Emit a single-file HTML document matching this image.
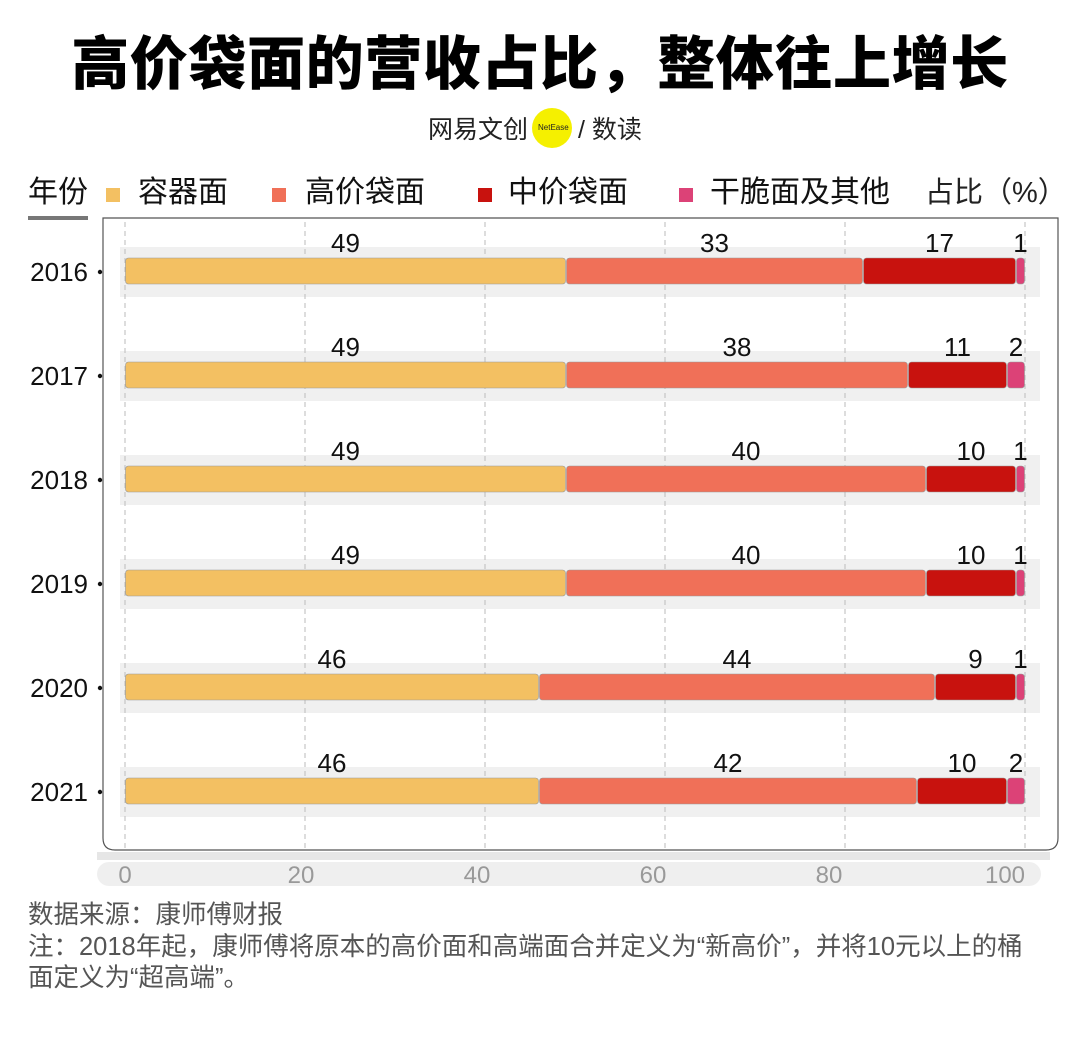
<!DOCTYPE html>
<html><head><meta charset="utf-8"><style>
body{margin:0;background:#fff;width:1080px;height:1038px;overflow:hidden;position:relative;font-family:"Liberation Sans","Noto Sans CJK SC",sans-serif}
.abs{position:absolute}
#title{left:0;width:1080px;top:28px;text-align:center;font-size:58px;font-weight:900;color:#000;line-height:74px;letter-spacing:0.6px}
.leg{top:173px;font-size:30px;line-height:40px;color:#111}
.sw{width:14px;height:14px;top:188px}
.foot{left:28px;font-size:25.5px;color:#555;line-height:31px;white-space:nowrap}
</style></head><body>
<div id="title" class="abs">高价袋面的营收占比，整体往上增长</div>
<div class="abs" style="left:428px;top:112px;height:40px;width:230px">
 <div class="abs" style="left:104px;top:-4px;width:40px;height:40px;border-radius:50%;background:#f5f000"></div>
 <div class="abs" style="left:0;top:0;font-size:25px;color:#222;line-height:36px">网易文创</div>
 <div class="abs" style="left:110px;top:11px;font-size:8px;color:#222">NetEase</div>
 <div class="abs" style="left:150px;top:0;font-size:25px;color:#222;line-height:36px">/ 数读</div>
</div>
<div class="abs leg" style="left:28px">年份</div>
<div class="abs" style="left:28px;top:216px;width:60px;height:4px;background:#777"></div>
<div class="abs sw" style="left:106px;background:#f3c062"></div>
<div class="abs leg" style="left:138px">容器面</div>
<div class="abs sw" style="left:272px;background:#f07058"></div>
<div class="abs leg" style="left:305px">高价袋面</div>
<div class="abs sw" style="left:478px;background:#c8120e"></div>
<div class="abs leg" style="left:508px">中价袋面</div>
<div class="abs sw" style="left:679px;background:#dc4277"></div>
<div class="abs leg" style="left:710px">干脆面及其他</div>
<div class="abs leg" style="left:925px;color:#222;font-size:29px">占比（%）</div>
<svg class="abs" style="left:0;top:0" width="1080" height="1038" id="chart"></svg>
<div class="abs foot" style="top:900px">数据来源：康师傅财报</div>
<div class="abs foot" style="top:932px">注：2018年起，康师傅将原本的高价面和高端面合并定义为“新高价”，并将10元以上的桶<br>面定义为“超高端”。</div>
<script>
const years=["2016","2017","2018","2019","2020","2021"];
const container=[49,49,49,49,46,46];
const highBag=[33,38,40,40,44,42];
const midBag=[17,11,10,10,9,10];
const other=[1,2,1,1,1,2];
const ticks=[0,20,40,60,80,100];
const series=[container,highBag,midBag,other];
const colors=["#f3c062","#f07058","#c8120e","#dc4277"];
const names=["container","high-bag","mid-bag","other"];
const NS="http://www.w3.org/2000/svg";
const svg=document.getElementById('chart');
const x=v=>125+v*9;
const tx=v=>125+v*8.8;
const y=i=>271+i*104;
function mk(t,a){const e=document.createElementNS(NS,t);for(const k in a)e.setAttribute(k,a[k]);svg.appendChild(e);return e;}
let e=mk('path',{d:'M97 852 L1050 852 L1050 860 L97 860 Z',fill:'#e6e6e6'});
e=mk('path',{d:'M103 218 L1058 218 L1058 838 Q1058 850 1046 850 L115 850 Q103 850 103 838 Z',fill:'#fff',stroke:'#555','stroke-width':1.2});


e=mk('rect',{x:97,y:862,width:944,height:24,rx:12,fill:'#efefef'});
years.forEach((yr,i)=>{
 e=mk('rect',{x:120,y:y(i)-24,width:920,height:50,fill:'#f0f0f0'});
 
 
});
ticks.forEach(t=>{
 e=mk('line',{x1:x(t),x2:x(t),y1:222,y2:848,stroke:'#bbb','stroke-dasharray':'5,4','stroke-width':1});
 
 
 e=mk('text',{x:tx(t),y:883,'text-anchor':'middle','font-size':24,fill:'#999','font-family':'Liberation Sans, sans-serif'});
 e.textContent=t;
 
 
});
years.forEach((yr,i)=>{
 e=mk('text',{x:88,y:y(i)+10,'text-anchor':'end','font-size':26,fill:'#111'});
 e.textContent=yr;
 
 
 mk('circle',{cx:100,cy:y(i)+1,r:2.2,fill:'#111'});
 let acc=0;
 series.forEach((s,k)=>{
  const v=s[i];
  e=mk('rect',{x:x(acc)+0.5,y:y(i)-13,width:Math.max(x(acc+v)-x(acc)-1,1),height:26,rx:3,fill:colors[k],stroke:'#999','stroke-width':0.6});
  
  
  e=mk('text',{x:(x(acc)+x(acc+v))/2,y:y(i)-19,'text-anchor':'middle','font-size':26,fill:'#111'});
  e.textContent=v;
  
  
  acc+=v;
 });
});
</script>
</body></html>
